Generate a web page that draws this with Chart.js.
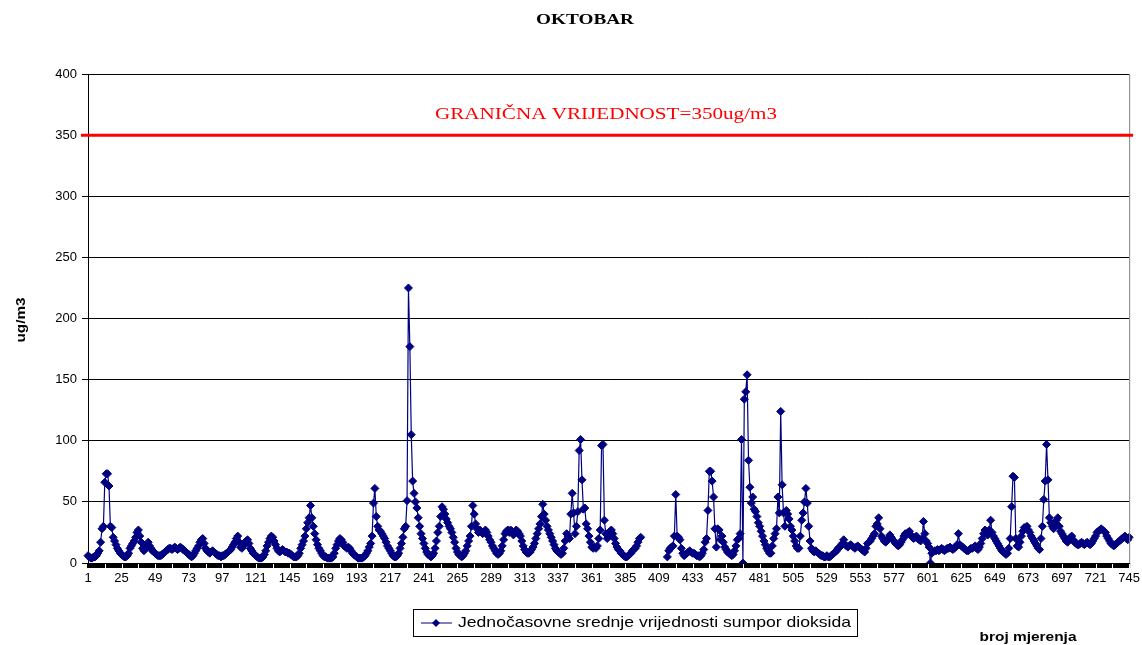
<!DOCTYPE html>
<html>
<head>
<meta charset="utf-8">
<title>OKTOBAR</title>
<script src="https://cdn.jsdelivr.net/npm/chart.js@4/dist/chart.umd.min.js"></script>
<style>
    html, body { margin: 0; padding: 0; background: #fff; }
    #wrap { position: relative; width: 1142px; height: 645px; }
</style>
</head>
<body>
<div id="wrap"><canvas id="chart" width="1142" height="645"></canvas></div>
<script>
const so2Part1 = [
    6, 5, 4, 4, 5, 5, 6, 8, 10, 17,
    28, 30, 66, 73, 73, 63, 30, 29, 21, 18,
    15, 12, 10, 8, 7, 6, 5, 5, 6, 8,
    12, 14, 16, 18, 21, 25, 27, 22, 17, 12,
    10, 12, 15, 17, 14, 12, 10, 9, 8, 7,
    6, 6, 6, 7, 8, 9, 10, 11, 12, 12,
    11, 12, 13, 12, 11, 12, 13, 12, 11, 10,
    9, 8, 7, 6, 5, 6, 8, 10, 12, 14,
    17, 19, 20, 16, 12, 10, 9, 8, 9, 10,
    9, 8, 7, 6, 6, 5, 6, 6, 7, 8,
    9, 10, 11, 13, 15, 17, 20, 22, 17, 13,
    12, 14, 16, 18, 19, 16, 12, 10, 8, 7
];
const so2Part2 = [
    6, 5, 4, 4, 4, 5, 7, 10, 14, 17,
    20, 22, 21, 18, 15, 12, 10, 9, 10, 11,
    10, 9, 9, 8, 8, 7, 6, 5, 5, 5,
    6, 8, 12, 15, 18, 22, 28, 33, 37, 47,
    37, 30, 24, 19, 15, 12, 10, 8, 6, 5,
    5, 4, 4, 4, 4, 5, 8, 12, 15, 18,
    20, 19, 17, 14, 13, 12, 13, 12, 10, 8,
    7, 6, 5, 4, 4, 4, 4, 5, 6, 8,
    10, 13, 16, 22, 49, 61, 38, 30, 27, 26,
    24, 22, 20, 17, 14, 12, 10, 8, 6, 5,
    5, 6, 8, 12, 16, 21, 28, 30, 51, 225,
    177, 105, 67, 57, 50, 45, 37, 30, 24, 20
];
const so2Part3 = [
    16, 12, 9, 7, 6, 5, 6, 8, 12, 18,
    25, 30, 38, 46, 44, 40, 36, 33, 30, 28,
    25, 21, 17, 12, 9, 7, 6, 5, 6, 8,
    10, 14, 18, 22, 30, 47, 40, 32, 28, 25,
    27, 26, 24, 25, 27, 25, 22, 19, 17, 14,
    12, 10, 8, 7, 8, 10, 14, 19, 24, 26,
    27, 25, 27, 26, 23, 25, 27, 26, 24, 22,
    18, 14, 11, 9, 8, 8, 9, 11, 13, 16,
    20, 24, 28, 32, 38, 48, 40, 35, 30, 27,
    24, 21, 18, 15, 12, 10, 9, 8, 7, 8,
    12, 18, 24, 22, 20, 40, 57, 41, 24, 30,
    42, 92, 101, 68, 44, 45, 32, 28, 22, 17
];
const so2Part4 = [
    13, 12, 13, 12, 14, 20, 27, 96, 97, 35,
    24, 20, 22, 26, 27, 24, 20, 16, 13, 11,
    10, 8, 7, 6, 5, 5, 6, 7, 8, 10,
    11, 12, 14, 17, 20, 21, null, null, null, null,
    null, null, null, null, null, null, null, null, null, null,
    null, null, null, null, 5, 10, 12, 13, 14, 22,
    56, 22, 21, 19, 12, 8, 6, 7, 8, 9,
    10, 9, 8, 8, 7, 6, 6, 5, 6, 8,
    11, 17, 20, 43, 75, 75, 67, 54, 28, 13,
    28, 27, 19, 22, 17, 13, 11, 9, 8, 7,
    6, 7, 10, 14, 19, 20, 24, 101, 0, 134,
    140, 154, 84, 62, 49, 54, 44, 42, 38, 33
];
const so2Part5 = [
    30, 26, 22, 18, 15, 12, 10, 8, 8, 14,
    20, 24, 28, 54, 41, 124, 64, 41, 30, 43,
    40, 36, 30, 27, 22, 18, 14, 12, 12, 22,
    35, 41, 50, 61, 49, 30, 18, 12, 10, 9,
    10, 9, 8, 7, 6, 6, 5, 5, 6, 5,
    5, 6, 7, 8, 9, 10, 12, 13, 14, 16,
    19, 15, 14, 13, 14, 15, 14, 13, 12, 13,
    14, 13, 12, 11, 10, 9, 12, 16, 17, 18,
    20, 22, 24, 30, 32, 37, 28, 22, 20, 18,
    17, 18, 20, 23, 21, 19, 18, 16, 15, 14,
    15, 17, 19, 22, 24, 23, 25, 26, 23, 21,
    20, 21, 22, 20, 19, 18, 20, 34, 24, 18
];
const so2Part6 = [
    16, 13, 0, 8, 9, 10, 10, 11, 10, 11,
    12, 11, 10, 11, 12, 12, 13, 12, 11, 12,
    13, 15, 24, 15, 14, 13, 12, 11, 10, 10,
    11, 12, 12, 13, 14, 12, 11, 13, 16, 20,
    24, 27, 25, 23, 27, 35, 25, 22, 20, 18,
    16, 14, 12, 10, 9, 8, 7, 8, 12, 20,
    46, 71, 70, 20, 14, 13, 17, 22, 26, 29,
    28, 30, 27, 25, 22, 20, 18, 16, 14, 12,
    11, 20, 30, 52, 67, 97, 68, 37, 33, 30,
    28, 32, 35, 37, 30, 26, 24, 22, 20, 18,
    17, 19, 21, 22, 19, 17, 16, 15, 15, 16,
    17, 16, 15, 16, 17, 16, 15, 16, 18, 20,
    22, 25, 26, 27, 28, 27, 26, 25, 22, 20,
    18, 16, 15, 14, 15, 16, 17, 18, 19, 20,
    21, 22, 20, 19, 21
];

const so2Values = [].concat(so2Part1, so2Part2, so2Part3, so2Part4, so2Part5, so2Part6);
const measureNo = so2Values.map((_, i) => String(i + 1));   // 1 .. 745
const labelEvery = 24;                                      // x labels 1, 25, 49 ...
const tickGapEvery = 12;                                    // white notches in the tick band
const limitValue = 350;
const yMin = 0, yMax = 400, yStep = 50;

const seriesLabel = "Jednočasovne srednje vrijednosti sumpor dioksida";
const chartTitle = "OKTOBAR";
const limitText = "GRANIČNA VRIJEDNOST=350ug/m3";
const yTitle = "ug/m3";
const xTitle = "broj mjerenja";

const navy = "#000080";
const sans = "'Liberation Sans', Arial, sans-serif";
const serif = "'Liberation Serif', 'Times New Roman', serif";

// draw text stretched to a given width (the original fonts are wider)
function fitText(ctx, text, cx, cy, font, width, color, rot) {
    ctx.save();
    ctx.font = font;
    ctx.fillStyle = color;
    ctx.textAlign = "center";
    ctx.textBaseline = "middle";
    const w = ctx.measureText(text).width;
    ctx.translate(cx, cy);
    if (rot) ctx.rotate(rot);
    ctx.scale(width / w, 1);
    ctx.fillText(text, 0, 0);
    ctx.restore();
}

const overlay = {
    id: "overlay",
    afterDraw(chart) {
        const ctx = chart.ctx;
        const area = chart.chartArea;
        const x = chart.scales.x;
        const y = chart.scales.y;

        ctx.save();
        // frame right side
        ctx.strokeStyle = "#808080";
        ctx.lineWidth = 1;
        ctx.beginPath();
        ctx.moveTo(area.right + 0.5, area.top);
        ctx.lineTo(area.right + 0.5, area.bottom);
        ctx.stroke();

        // dense category tick band under the x axis
        ctx.fillStyle = "#000";
        ctx.fillRect(area.left - 1, area.bottom, area.right - area.left + 2, 5);
        ctx.fillStyle = "#fff";
        for (let i = tickGapEvery; i < measureNo.length; i += tickGapEvery) {
            const px = Math.round(x.getPixelForValue(i));
            ctx.fillRect(px, area.bottom + 1, 1, 4);
        }

        // limit line
        const ly = y.getPixelForValue(limitValue);
        ctx.strokeStyle = "#ff0000";
        ctx.lineWidth = 3;
        ctx.beginPath();
        ctx.moveTo(area.left - 7, ly);
        ctx.lineTo(area.right + 4, ly);
        ctx.stroke();
        ctx.restore();

        fitText(ctx, limitText, 606, 115, "17px " + serif, 342, "#ff0000");
        fitText(ctx, chartTitle, 585, 20, "bold 15px " + serif, 98, "#000");
        fitText(ctx, yTitle, 21, 320, "bold 13px " + sans, 45, "#000", -Math.PI / 2);
        fitText(ctx, xTitle, 1028, 637, "bold 13px " + sans, 97, "#000");

        // legend
        const ds = chart.data.datasets[0];
        ctx.save();
        ctx.strokeStyle = "#000";
        ctx.lineWidth = 1;
        ctx.strokeRect(413.5, 609.5, 444, 27);
        ctx.strokeStyle = ds.borderColor;
        ctx.beginPath();
        ctx.moveTo(421, 623);
        ctx.lineTo(452, 623);
        ctx.stroke();
        ctx.fillStyle = ds.pointBackgroundColor;
        ctx.beginPath();
        ctx.moveTo(436, 619);
        ctx.lineTo(440, 623);
        ctx.lineTo(436, 627);
        ctx.lineTo(432, 623);
        ctx.closePath();
        ctx.fill();
        ctx.restore();
        fitText(ctx, ds.label, 458 + 393 / 2, 623, "15px " + sans, 393, "#000");
    }
};

new Chart(document.getElementById("chart"), {
    type: "line",
    data: {
        labels: measureNo,
        datasets: [{
            label: seriesLabel,
            data: so2Values,
            borderColor: navy,
            backgroundColor: navy,
            pointBackgroundColor: navy,
            pointBorderColor: navy,
            borderWidth: 1.2,
            pointStyle: "rectRot",
            pointRadius: 4,
            pointBorderWidth: 1,
            tension: 0,
            spanGaps: false
        }]
    },
    options: {
        responsive: false,
        animation: false,
        devicePixelRatio: 1,
        layout: { padding: { left: 0, right: 12, top: 74, bottom: 0 } },
        plugins: {
            legend: { display: false },
            title: { display: false },
            tooltip: { enabled: false }
        },
        scales: {
            x: {
                type: "category",
                offset: false,
                afterFit: s => { s.height = 82; },
                border: { color: "#000", width: 1 },
                // tick marks kept for spacing only, the band is drawn in the overlay
                grid: { drawOnChartArea: false, drawTicks: true, tickLength: 6, tickColor: "rgba(0,0,0,0)" },
                ticks: {
                    autoSkip: false,
                    maxRotation: 0,
                    minRotation: 0,
                    padding: 2,
                    color: "#000",
                    font: { family: sans, size: 13 },
                    callback: (v, i) => (i % labelEvery === 0 ? measureNo[i] : "")
                }
            },
            y: {
                min: yMin,
                max: yMax,
                afterFit: s => { s.width = 88; },
                border: { color: "#000", width: 1 },
                grid: { color: "#000", tickColor: "#000", tickLength: 6, lineWidth: 1 },
                ticks: {
                    stepSize: yStep,
                    padding: 5,
                    color: "#000",
                    font: { family: sans, size: 13 }
                }
            }
        }
    },
    plugins: [overlay]
});
</script>
</body>
</html>
